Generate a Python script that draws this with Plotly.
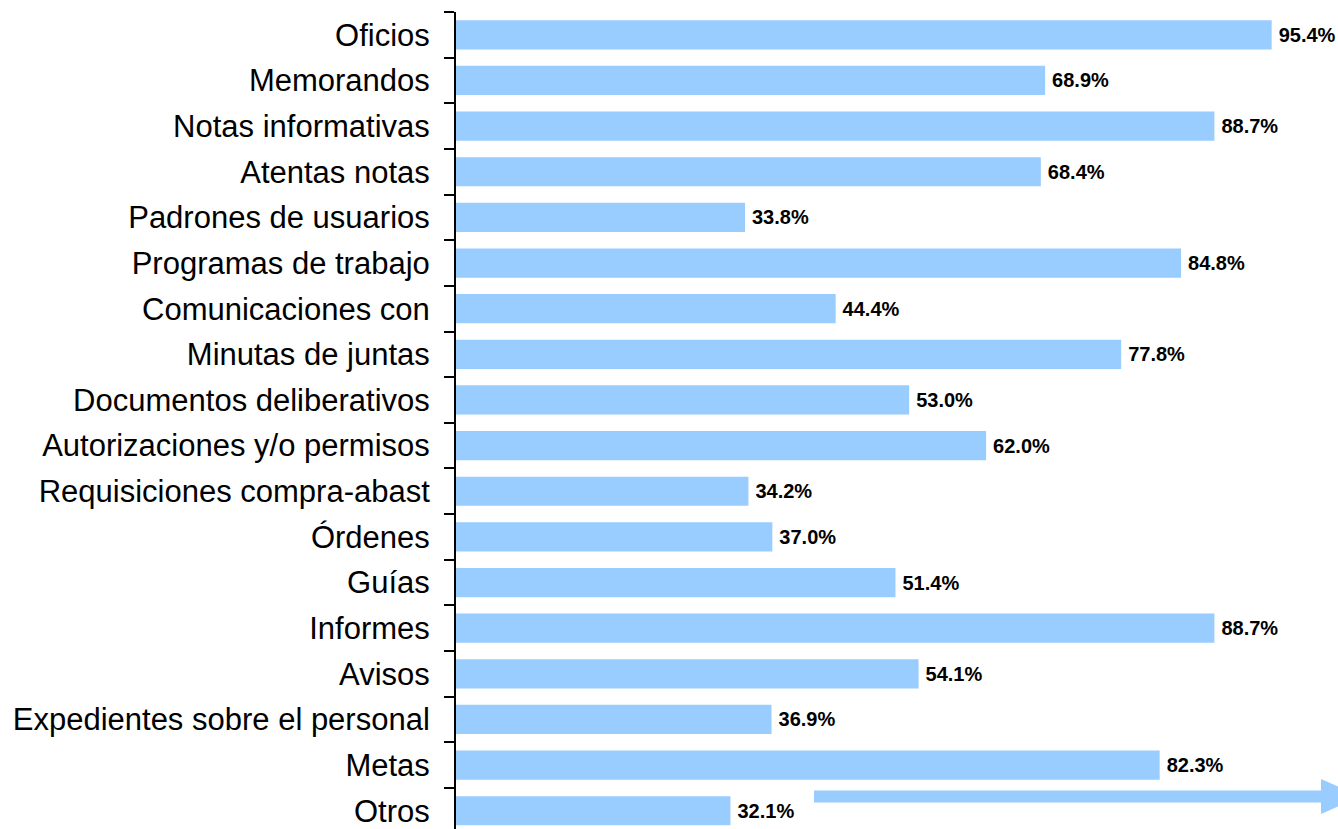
import plotly.graph_objects as go

categories = [
    "Oficios", "Memorandos", "Notas informativas", "Atentas notas",
    "Padrones de usuarios", "Programas de trabajo", "Comunicaciones con",
    "Minutas de juntas", "Documentos deliberativos", "Autorizaciones y/o permisos",
    "Requisiciones compra-abast", "Órdenes", "Guías", "Informes", "Avisos",
    "Expedientes sobre el personal", "Metas", "Otros",
]
values = [95.4, 68.9, 88.7, 68.4, 33.8, 84.8, 44.4, 77.8, 53.0, 62.0,
          34.2, 37.0, 51.4, 88.7, 54.1, 36.9, 82.3, 32.1]
value_labels = [f"{v:.1f}%" for v in values]

BAR = "#99CCFF"
FONT = "Liberation Sans, Arial, sans-serif"

fig = go.Figure(go.Bar(
    x=values, y=categories, orientation="h",
    marker=dict(color=BAR, line=dict(width=0)),
    width=0.64,
    text=value_labels, texttemplate="\u2009%{text}",
    textposition="outside", cliponaxis=False,
    textfont=dict(family=FONT, size=20, color="black", weight="bold"),
    hoverinfo="skip",
))

W, H = 1338, 829
L, R, T, B = 456, 27, 12, 0
PW, PH = W - L - R, H - T - B

def px(x):  # screen px -> paper
    return (x - L) / PW

def py(y):
    return (H - B - y) / PH

fig.update_layout(
    width=W, height=H,
    margin=dict(l=L, r=R, t=T, b=B, autoexpand=False),
    paper_bgcolor="white", plot_bgcolor="white",
    showlegend=False,
    xaxis=dict(range=[0, 100], visible=False, fixedrange=True),
    yaxis=dict(
        type="category", categoryorder="array", categoryarray=categories,
        range=[17.4, -0.5], tickson="boundaries", automargin=False,
        showline=True, linecolor="black", linewidth=2,
        ticks="outside", ticklen=10, tickwidth=2, tickcolor="black",
        tickfont=dict(family=FONT, size=31, color="black"),
        ticklabelstandoff=18, showgrid=False, fixedrange=True,
    ),
    shapes=[
        dict(type="rect", xref="paper", yref="paper",
             x0=px(814), x1=px(1322), y0=py(802.5), y1=py(790.5),
             fillcolor=BAR, line=dict(width=0)),
        dict(type="path", xref="paper", yref="paper",
             path=f"M {px(1321)},{py(779)} L {px(1361)},{py(796.5)} L {px(1321)},{py(814)} Z",
             fillcolor=BAR, line=dict(width=0)),
    ],
)

fig.write_html(
    "out.html",
    config={"displayModeBar": False},
    post_script="document.body.style.margin='0';document.body.style.overflow='hidden';",
)
